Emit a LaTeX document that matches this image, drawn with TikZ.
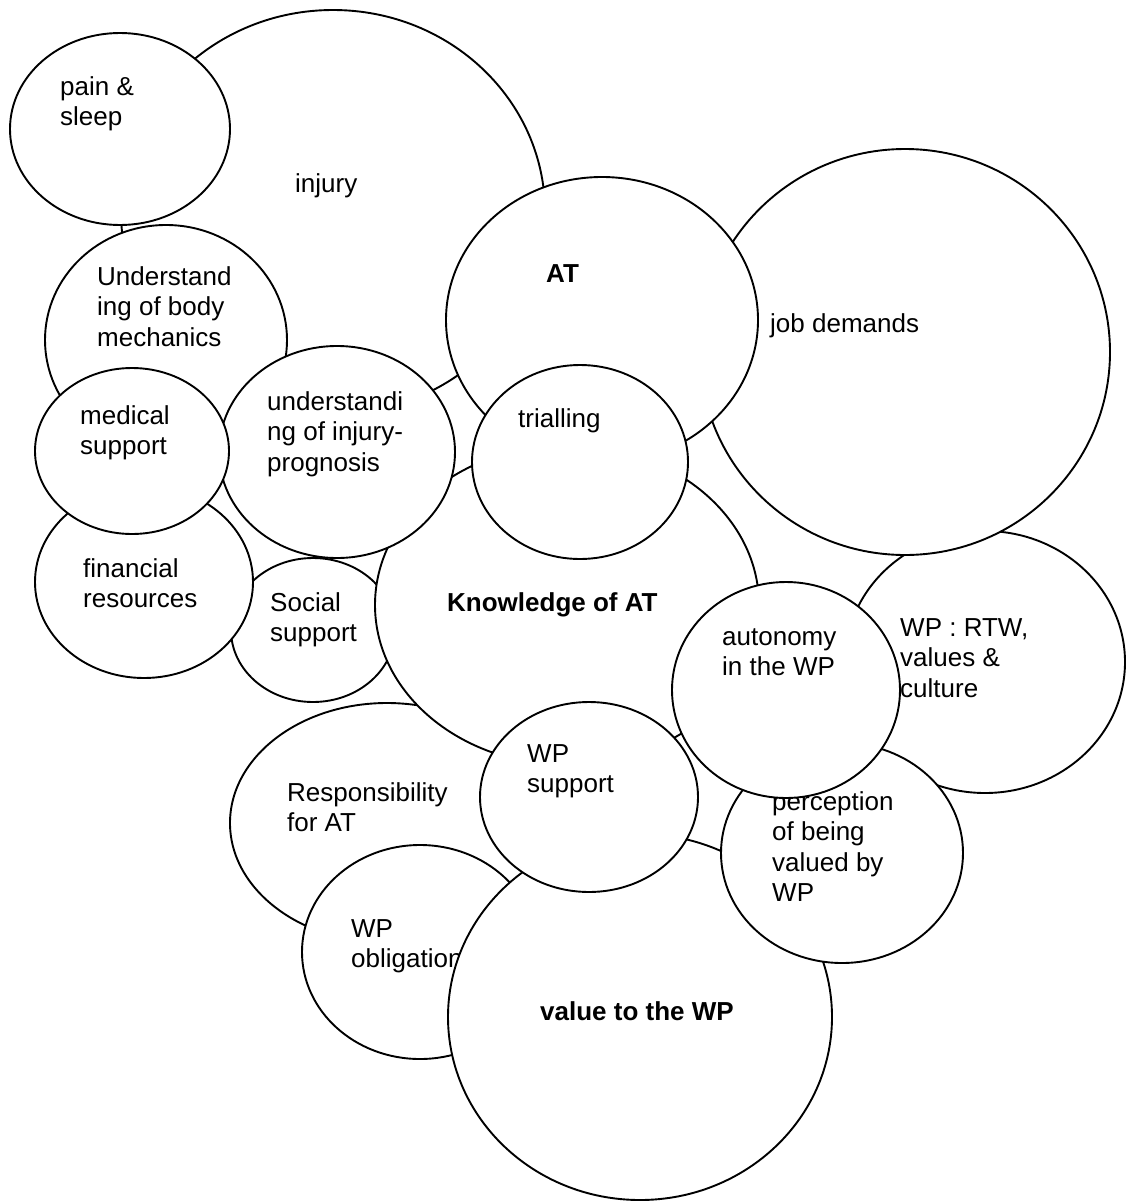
\documentclass[tikz,border=0pt]{standalone}
\usepackage{fontspec}
\setmainfont{Liberation Sans}
\usetikzlibrary{shapes.geometric}
\begin{document}
\begin{tikzpicture}[x=1pt,y=-1pt,
  bub/.style={ellipse, draw=black, line width=1.9pt, fill=white, inner sep=0pt, outer sep=0pt},
  lbl/.style={anchor=base west, inner sep=0pt, font=\fontsize{26}{30.5}\selectfont}]
\useasboundingbox (0,0) rectangle (1125,1202);

% circles are stacked from back to front; each label is drawn with its circle
\node[bub, minimum width=424pt, minimum height=404pt] (injury) at (333,212) {};
\node[lbl] (t-injury) at (295,192) {injury};

\node[bub, minimum width=220pt, minimum height=192pt] (pain) at (120,129) {};
\node[lbl] (t-pain) at (60,95) {\begin{tabular}[t]{@{}l@{}}pain \&\\ sleep\end{tabular}};

\node[bub, minimum width=242pt, minimum height=230pt] (mech) at (166,340) {};
\node[lbl] (t-mech) at (97,285) {\begin{tabular}[t]{@{}l@{}}Understand\\ ing of body\\ mechanics\end{tabular}};

\node[bub, minimum width=280pt, minimum height=262pt] (rtw) at (985,662) {};
\node[lbl] (t-rtw) at (900,636) {\begin{tabular}[t]{@{}l@{}}WP : RTW,\\ values \&\\ culture\end{tabular}};

\node[bub, minimum width=410pt, minimum height=406pt] (job) at (905,352) {};
\node[lbl] (t-job) at (770,332) {job demands};

\node[bub, minimum width=312pt, minimum height=286pt] (at) at (602,320) {};
\node[lbl] (t-at) at (546,282) {\bfseries AT};

\node[bub, minimum width=164pt, minimum height=144pt] (social) at (313,630) {};
\node[lbl] (t-social) at (270,611) {\begin{tabular}[t]{@{}l@{}}Social\\ support\end{tabular}};

\node[bub, minimum width=314pt, minimum height=240pt] (resp) at (387,823) {};
\node[lbl] (t-resp) at (287,801) {\begin{tabular}[t]{@{}l@{}}Responsibility\\ for AT\end{tabular}};

\node[bub, minimum width=384pt, minimum height=320pt] (know) at (567,605) {};
\node[lbl] (t-know) at (447,611) {\bfseries Knowledge of AT};

\node[bub, minimum width=236pt, minimum height=212pt] (prog) at (337,452) {};
\node[lbl] (t-prog) at (267,410) {\begin{tabular}[t]{@{}l@{}}understandi\\ ng of injury-\\ prognosis\end{tabular}};

\node[bub, minimum width=218pt, minimum height=192pt] (fin) at (144,582) {};
\node[lbl] (t-fin) at (83,577) {\begin{tabular}[t]{@{}l@{}}financial\\ resources\end{tabular}};

\node[bub, minimum width=194pt, minimum height=166pt] (med) at (132,451) {};
\node[lbl] (t-med) at (80,424) {\begin{tabular}[t]{@{}l@{}}medical\\ support\end{tabular}};

\node[bub, minimum width=216pt, minimum height=194pt] (trial) at (580,462) {};
\node[lbl] (t-trial) at (518,427) {trialling};

\node[bub, minimum width=236pt, minimum height=214pt] (oblig) at (420,952) {};
\node[lbl] (t-oblig) at (351,937) {\begin{tabular}[t]{@{}l@{}}WP\\ obligation\end{tabular}};

\node[bub, minimum width=384pt, minimum height=366pt] (value) at (640,1017) {};
\node[lbl] (t-value) at (540,1020) {\bfseries value to the WP};

\node[bub, minimum width=218pt, minimum height=190pt] (wpsup) at (589,797) {};
\node[lbl] (t-wpsup) at (527,762) {\begin{tabular}[t]{@{}l@{}}WP\\ support\end{tabular}};

\node[bub, minimum width=242pt, minimum height=220pt] (perc) at (842,853) {};
\node[lbl] (t-perc) at (772,810) {\begin{tabular}[t]{@{}l@{}}perception\\ of being\\ valued by\\ WP\end{tabular}};

\node[bub, minimum width=228pt, minimum height=216pt] (auton) at (786,690) {};
\node[lbl] (t-auton) at (722,645) {\begin{tabular}[t]{@{}l@{}}autonomy\\ in the WP\end{tabular}};
\end{tikzpicture}
\end{document}
